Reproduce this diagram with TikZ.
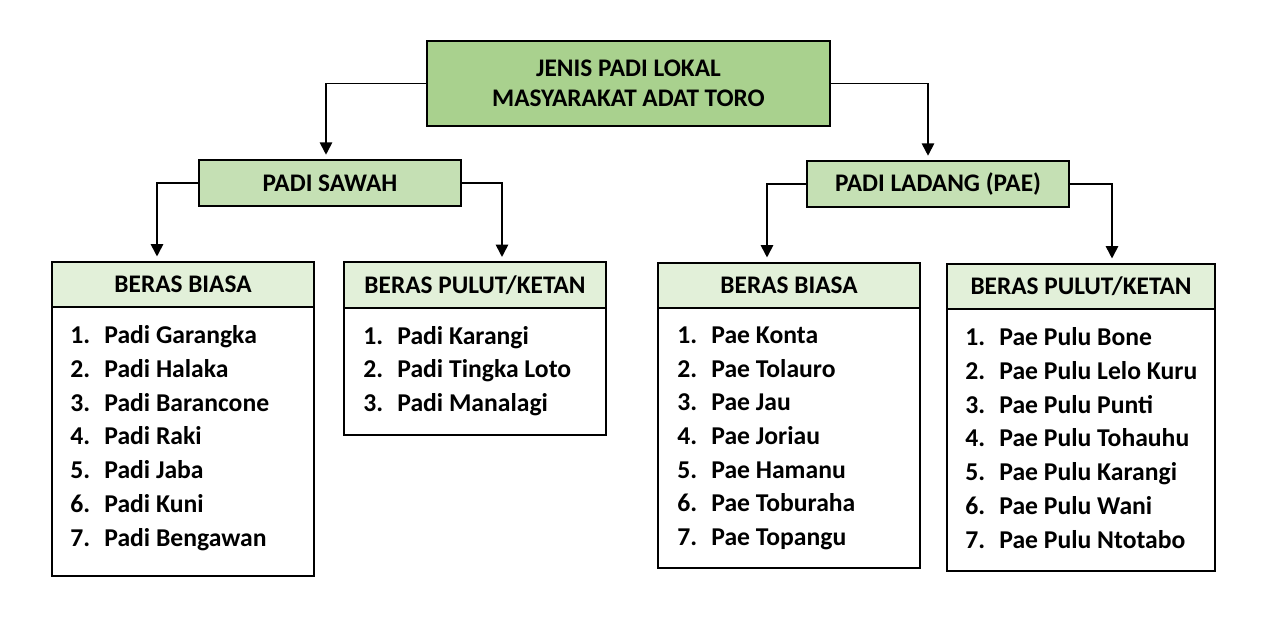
\documentclass[tikz,border=0pt]{standalone}
\usepackage{fontspec}
\setmainfont{Carlito}
\usetikzlibrary{arrows.meta, positioning}
\definecolor{padiDark}{HTML}{A9D18E}
\definecolor{padiMid}{HTML}{C5E0B4}
\definecolor{padiLight}{HTML}{E2F0D9}
\newcommand{\padiitem}[2]{\makebox[0.68cm][l]{#1.}#2}

\begin{document}
\begin{tikzpicture}[
        padibox/.style={
            draw=black,
            line width=1pt,
            inner sep=0pt,
            outer sep=0pt
        },
        rootbox/.style={
            padibox,
            fill=padiDark,
            minimum width=8.06cm,
            minimum height=1.70cm,
            align=center,
            font=\fontsize{14.4}{17}\selectfont\bfseries
        },
        groupbox/.style={
            padibox,
            fill=padiMid,
            minimum width=5.24cm,
            minimum height=0.92cm,
            font=\fontsize{14.4}{17}\selectfont\bfseries
        },
        headbox/.style={
            padibox,
            fill=padiLight,
            minimum width=5.24cm,
            minimum height=0.91cm,
            font=\fontsize{14.4}{17}\selectfont\bfseries
        },
        listbox/.style={
            padibox,
            fill=white,
            minimum width=5.24cm,
            anchor=north
        },
        listtext/.style={
            anchor=north west,
            align=left,
            inner sep=0pt,
            font=\fontsize{14.6}{19.2}\selectfont\bfseries
        },
        link/.style={
            line width=1pt,
            -{Triangle[width=7pt,length=7pt]},
            shorten >=3pt
        }
    ]

    % 1 px of the sketch = 0.02 cm, origin at the lower left corner
    \useasboundingbox (0,0) rectangle (25.32,12.32);

    \node[rootbox] (root) at (12.57,10.65)
        {JENIS PADI LOKAL\\MASYARAKAT ADAT TORO};
    \node[groupbox] (sawah) at (6.60,8.66) {PADI SAWAH};
    \node[groupbox] (ladang) at (18.76,8.64) {PADI LADANG (PAE)};

    \node[headbox] (sawahBiasa) at (3.66,6.63) {BERAS BIASA};
    \node[headbox] (sawahPulut) at (9.50,6.62) {BERAS PULUT/KETAN};
    \node[headbox] (ladangBiasa) at (15.78,6.61) {BERAS BIASA};
    \node[headbox,minimum width=5.36cm] (ladangPulut) at (21.62,6.59)
        {BERAS PULUT/KETAN};

    \node[listbox,minimum height=5.38cm] (sawahBiasaList)
        at (sawahBiasa.south) {};
    \node[listbox,minimum height=2.54cm] (sawahPulutList)
        at (sawahPulut.south) {};
    \node[listbox,minimum height=5.20cm] (ladangBiasaList)
        at (ladangBiasa.south) {};
    \node[listbox,minimum height=5.24cm,minimum width=5.36cm] (ladangPulutList)
        at (ladangPulut.south) {};

    \node[listtext] (sawahBiasaItems)
        at ([xshift=0.36cm,yshift=-0.36cm]sawahBiasaList.north west)
        {\padiitem{1}{Padi Garangka}\\\padiitem{2}{Padi Halaka}\\
         \padiitem{3}{Padi Barancone}\\\padiitem{4}{Padi Raki}\\
         \padiitem{5}{Padi Jaba}\\\padiitem{6}{Padi Kuni}\\
         \padiitem{7}{Padi Bengawan}};
    \node[listtext] (sawahPulutItems)
        at ([xshift=0.38cm,yshift=-0.36cm]sawahPulutList.north west)
        {\padiitem{1}{Padi Karangi}\\\padiitem{2}{Padi Tingka Loto}\\
         \padiitem{3}{Padi Manalagi}};
    \node[listtext] (ladangBiasaItems)
        at ([xshift=0.38cm,yshift=-0.36cm]ladangBiasaList.north west)
        {\padiitem{1}{Pae Konta}\\\padiitem{2}{Pae Tolauro}\\
         \padiitem{3}{Pae Jau}\\\padiitem{4}{Pae Joriau}\\
         \padiitem{5}{Pae Hamanu}\\\padiitem{6}{Pae Toburaha}\\
         \padiitem{7}{Pae Topangu}};
    \node[listtext] (ladangPulutItems)
        at ([xshift=0.36cm,yshift=-0.36cm]ladangPulutList.north west)
        {\padiitem{1}{Pae Pulu Bone}\\\padiitem{2}{Pae Pulu Lelo Kuru}\\
         \padiitem{3}{Pae Pulu Punti}\\\padiitem{4}{Pae Pulu Tohauhu}\\
         \padiitem{5}{Pae Pulu Karangi}\\\padiitem{6}{Pae Pulu Wani}\\
         \padiitem{7}{Pae Pulu Ntotabo}};

    \draw[link] (root.west) -| ([xshift=-0.08cm]sawah.north);
    \draw[link] (root.east) -| ([xshift=-0.20cm]ladang.north);
    \draw[link] (sawah.west) -| ([xshift=-0.52cm]sawahBiasa.north);
    \draw[link] (sawah.east) -| ([xshift=0.54cm]sawahPulut.north);
    \draw[link] (ladang.west) -| ([xshift=-0.44cm]ladangBiasa.north);
    \draw[link] (ladang.east) -| ([xshift=0.62cm]ladangPulut.north);

    \end{tikzpicture}
\end{document}
